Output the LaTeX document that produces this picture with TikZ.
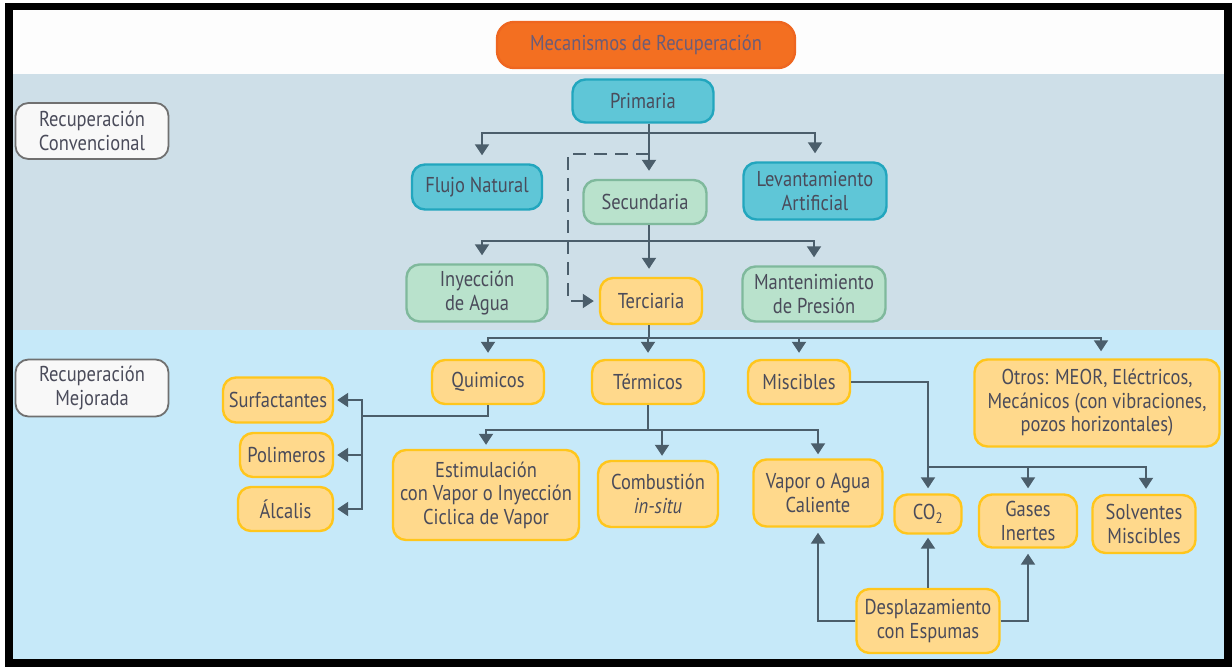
\documentclass[tikz,border=0pt]{standalone}
\usepackage{fontspec}
\setmainfont{PT Sans}[FakeStretch=0.86]
\usetikzlibrary{arrows.meta}
\definecolor{txt}{HTML}{4A4B5A}
\definecolor{mectxt}{HTML}{6A5C78}
\definecolor{lncol}{HTML}{4B5E6B}
\definecolor{bandwhite}{HTML}{FDFDFD}
\definecolor{bandgrey}{HTML}{CEDFE8}
\definecolor{bandblue}{HTML}{C6E9F9}
\definecolor{orfill}{HTML}{F36F21}
\definecolor{orline}{HTML}{EE6620}
\definecolor{tealfill}{HTML}{5FC6D7}
\definecolor{tealline}{HTML}{22A6BE}
\definecolor{grfill}{HTML}{B9E2CC}
\definecolor{grline}{HTML}{7FB99C}
\definecolor{yefill}{HTML}{FFD98C}
\definecolor{yeline}{HTML}{FFC61C}
\definecolor{wfill}{HTML}{F8F8F8}
\definecolor{wline}{HTML}{707070}
\tikzset{
  basebox/.style={draw, rounded corners=13pt, line width=2.4pt, align=center,
    inner sep=0pt, text=txt, font=\fontsize{21.5}{23.5}\selectfont},
  orangebox/.style={basebox, fill=orfill, draw=orline, text=mectxt, rounded corners=17pt},
  tealbox/.style={basebox, fill=tealfill, draw=tealline},
  greenbox/.style={basebox, fill=grfill, draw=grline},
  yellowbox/.style={basebox, fill=yefill, draw=yeline},
  greybox/.style={basebox, fill=wfill, draw=wline, line width=1.8pt},
  ln/.style={draw=lncol, line width=2pt},
  arr/.style={ln, -{Triangle[width=14pt,length=11pt]}, shorten >=8pt},
  dashln/.style={arr, dash pattern=on 13pt off 8pt, shorten >=5pt}
}
\begin{document}
\begin{tikzpicture}[x=1pt,y=-1pt]
\useasboundingbox (0,0) rectangle (1232,667);
% background and frame
\fill[white] (0,0) rectangle (1232,667);
\fill[black] (5,3) rectangle (1232,667);
\fill[bandwhite] (13,10) rectangle (1224,74);
\fill[bandgrey] (13,74) rectangle (1224,330);
\fill[bandblue] (13,330) rectangle (1224,659);

% nodes
\node[orangebox, minimum width=298pt, minimum height=46pt] (mec) at (646,45) {Mecanismos de Recuperación};
\node[greybox, minimum width=153pt, minimum height=56pt] (conv) at (92,131) {Recuperación\\Convencional};
\node[greybox, minimum width=153pt, minimum height=57pt] (mej) at (92,388) {Recuperación\\Mejorada};

\node[tealbox, minimum width=141pt, minimum height=43pt] (prim) at (643,101) {Primaria};
\node[tealbox, minimum width=130pt, minimum height=45pt] (flujo) at (477,187) {Flujo Natural};
\node[greenbox, minimum width=123pt, minimum height=44pt] (sec) at (645,202) {Secundaria};
\node[tealbox, minimum width=143pt, minimum height=57pt] (lev) at (815,191) {Levantamiento\\Artificial};
\node[greenbox, minimum width=141pt, minimum height=57pt] (iny) at (477,293) {Inyección\\de Agua};
\node[yellowbox, minimum width=102pt, minimum height=46pt] (ter) at (651,301) {Terciaria};
\node[greenbox, minimum width=143pt, minimum height=55pt] (man) at (814,294) {Mantenimiento\\de Presión};

\node[yellowbox, minimum width=112pt, minimum height=44pt] (quim) at (488,382) {Quimicos};
\node[yellowbox, minimum width=112pt, minimum height=44pt] (term) at (648,382) {Térmicos};
\node[yellowbox, minimum width=102pt, minimum height=44pt] (misc) at (799,382) {Miscibles};
\node[yellowbox, minimum width=245pt, minimum height=87pt] (otros) at (1097,403) {Otros: MEOR, Eléctricos,\\Mecánicos (con vibraciones,\\pozos horizontales)};

\node[yellowbox, minimum width=110pt, minimum height=45pt] (surf) at (278,400) {Surfactantes};
\node[yellowbox, minimum width=93pt, minimum height=44pt] (poli) at (286.5,455) {Polimeros};
\node[yellowbox, minimum width=95pt, minimum height=44pt] (alca) at (285.5,509) {Álcalis};

\node[yellowbox, minimum width=186pt, minimum height=90pt] (esti) at (486,495) {Estimulación\\con Vapor o Inyección\\Ciclica de Vapor};
\node[yellowbox, minimum width=120pt, minimum height=66pt] (comb) at (658,494) {Combustión\\\textit{in-situ}};
\node[yellowbox, minimum width=129pt, minimum height=67pt] (vapor) at (818,493) {Vapor o Agua\\Caliente};
\node[yellowbox, minimum width=67pt, minimum height=39pt] (co2) at (928,514) {CO\textsubscript{2}};
\node[yellowbox, minimum width=98pt, minimum height=53pt] (gases) at (1028,521) {Gases\\Inertes};
\node[yellowbox, minimum width=103pt, minimum height=58pt] (solv) at (1144,524) {Solventes\\Miscibles};
\node[yellowbox, minimum width=143pt, minimum height=64pt] (desp) at (928,621) {Desplazamiento\\con Espumas};

% connectors: Primaria
\coordinate (pj) at (649,133);
\draw[ln] (pj |- prim.south) -- (pj);
\draw[arr] (pj) -| ([xshift=5pt]flujo.north);
\draw[arr] (pj) -- (pj |- sec.north);
\draw[arr] (pj) -| (lev.north);
% dashed Primaria -> Terciaria
\coordinate (dj) at (649,154);
\coordinate (dc) at (568,154);
\draw[dashln] (dj) -- (dc) |- (ter.west);
% Secundaria
\coordinate (sj) at (649,241);
\draw[ln] (pj |- sec.south) -- (sj);
\draw[arr] (sj) -- (sj |- ter.north);
\draw[arr] (sj) -| ([xshift=5pt]iny.north);
\draw[arr] (sj) -| (man.north);
% Terciaria
\coordinate (tj) at (649,338);
\draw[ln] (tj |- ter.south) -- (tj);
\draw[arr, shorten >=6pt] (tj) -| (quim.north);
\draw[arr, shorten >=6pt] (tj) -| (term.north);
\draw[arr, shorten >=6pt] (tj) -| (misc.north);
\draw[arr, shorten >=7pt] (tj) -| ([xshift=4pt]otros.north);
% Quimicos
\coordinate (qj) at (362,416);
\draw[ln] (quim.south) |- (qj);
\draw[arr, shorten >=3pt] (qj) |- (surf.east);
\draw[arr, shorten >=3pt] (qj) |- (poli.east);
\draw[arr, shorten >=3pt] (qj) |- (alca.east);
% Termicos
\coordinate (thj) at (648,430);
\draw[ln] (term.south) -- (thj);
\draw[arr, shorten >=4pt] (thj) -| (esti.north);
\draw[arr, shorten >=4pt] (thj) -| ([xshift=4pt]comb.north);
\draw[arr, shorten >=4pt] (thj) -| (vapor.north);
% Miscibles
\coordinate (mj) at (928,467);
\draw[arr, shorten >=5pt] (misc.east) -| (co2.north);
\draw[arr, shorten >=5pt] (mj) -| (gases.north);
\draw[arr, shorten >=5pt] (mj) -| ([xshift=2pt]solv.north);
% Desplazamiento
\draw[arr, shorten >=3pt] (desp.north) -- (co2.south);
\draw[arr, shorten >=5pt] (desp.west) -| (vapor.south);
\draw[arr, shorten >=5pt] (desp.east) -| (gases.south);
\end{tikzpicture}
\end{document}
